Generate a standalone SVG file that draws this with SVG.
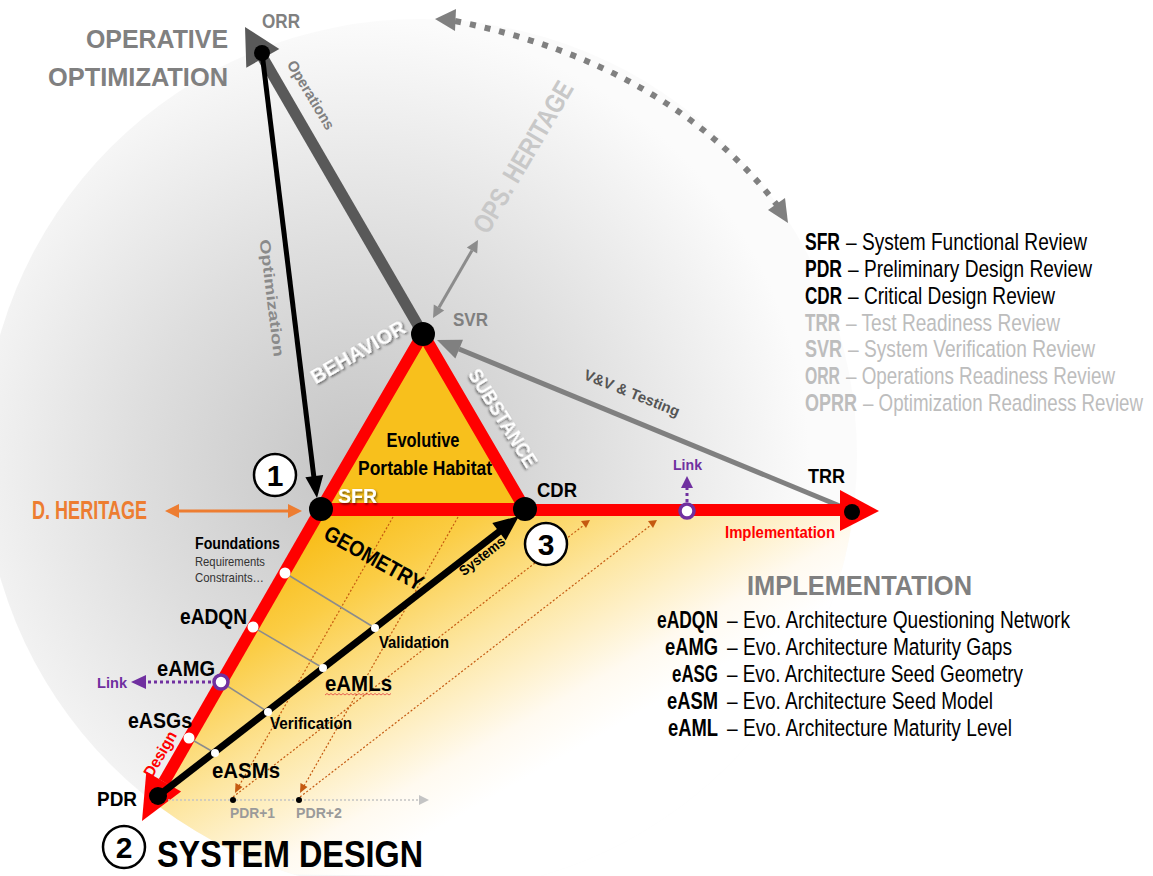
<svg xmlns="http://www.w3.org/2000/svg" width="1153" height="876" viewBox="0 0 1153 876">
<defs>
<style>
.n{font-family:"Liberation Sans",Arial,sans-serif}
.b{font-weight:bold}
.r{font-weight:normal}
.blk{fill:#000}
.gr{fill:#808080}
.lg{fill:#bdbdbd}
.sh{fill:#fff;filter:url(#ds)}
.dot{fill:#000}
.wd{fill:#fff}
.conn{stroke:#8c8c8c;stroke-width:1.5;fill:none}
.od{stroke:#c55a11;stroke-width:1.2;stroke-dasharray:2 2;fill:none}
.oh{fill:#c55a11}
.pl{fill:#7030a0}
</style>
<clipPath id="cc"><circle cx="420" cy="456" r="437"/></clipPath>
<radialGradient id="gg" gradientUnits="userSpaceOnUse" cx="360" cy="470" r="450">
<stop offset="0" stop-color="#c4c4c4"/>
<stop offset="0.5" stop-color="#dedede"/>
<stop offset="1" stop-color="#fbfbfb"/>
</radialGradient>
<linearGradient id="yg" gradientUnits="userSpaceOnUse" x1="330" y1="509" x2="495" y2="796">
<stop offset="0" stop-color="#f8bb12"/>
<stop offset="0.25" stop-color="#fbcd45"/>
<stop offset="0.55" stop-color="#fde6a0"/>
<stop offset="0.85" stop-color="#fffaf0"/>
<stop offset="1" stop-color="#ffffff"/>
</linearGradient>
<filter id="ds" x="-20%" y="-20%" width="140%" height="140%">
<feDropShadow dx="1" dy="1.5" stdDeviation="1" flood-color="#000" flood-opacity="0.6"/>
</filter>
</defs>

<g id="background" clip-path="url(#cc)">
<rect x="0" y="0" width="1153" height="876" fill="url(#gg)"/>
<polygon points="320,509 900,509 900,880 113,873" fill="url(#yg)"/>
</g>

<g id="habitat">
<polygon points="423,334 321,509 525,509" fill="#f8c01c" stroke="#ff0000" stroke-width="12" stroke-linejoin="round"/>
<text class="n b blk" x="423" y="447" font-size="21" text-anchor="middle" textLength="73" lengthAdjust="spacingAndGlyphs">Evolutive</text>
<text class="n b blk" x="425" y="475" font-size="21" text-anchor="middle" textLength="134" lengthAdjust="spacingAndGlyphs">Portable Habitat</text>
</g>

<g id="connectors">
<path d="M455,21 Q668,64 777,205" stroke="#808080" stroke-width="6" stroke-dasharray="6 9" fill="none"/>
<polygon points="435,19 456,9 455,31" fill="#808080"/>
<polygon points="788,223 768,210 785,198" fill="#808080"/>
<line x1="423" y1="334" x2="263" y2="58" stroke="#595959" stroke-width="11"/>
<polygon points="245,27 279.3,48.9 246.3,67.7" fill="#595959"/>
<line x1="262" y1="53" x2="314" y2="478" stroke="#000" stroke-width="5"/>
<polygon points="317,498 323.2,475.1 305.4,477.3" fill="#000"/>
<line x1="439" y1="307.6" x2="472" y2="250.4" stroke="#8c8c8c" stroke-width="3"/>
<polygon points="478,240 477.2,253.4 466.8,247.4" fill="#8c8c8c"/>
<polygon points="433,318 444.2,310.6 433.8,304.6" fill="#8c8c8c"/>
<line x1="852" y1="511" x2="459" y2="349" stroke="#808080" stroke-width="5"/>
<polygon points="437,340 463,339.8 455.4,358.4" fill="#808080"/>
<line x1="321" y1="510" x2="842" y2="510" stroke="#ff0000" stroke-width="12"/>
<polygon points="840,490 879,511 840,531" fill="#ff0000"/>
<line x1="321" y1="509" x2="164" y2="782" stroke="#ff0000" stroke-width="12"/>
<polygon points="142,821 181.1,791.6 146.3,771.8" fill="#ff0000"/>
<line x1="177" y1="511" x2="290" y2="511" stroke="#ed7d31" stroke-width="3"/>
<polygon points="165,511 179,504 179,518" fill="#ed7d31"/>
<polygon points="302,511 288,504 288,518" fill="#ed7d31"/>
<line class="od" x1="393" y1="517" x2="239" y2="786"/>
<polygon class="oh" points="235,793 242.5,787 235.5,783"/>
<line class="od" x1="458" y1="517" x2="304" y2="786"/>
<polygon class="oh" points="300,793 307.5,787 300.5,783"/>
<line class="od" x1="233" y1="797" x2="584" y2="525"/>
<polygon class="oh" points="590,520 581,521 586,528"/>
<line class="od" x1="300" y1="797" x2="651" y2="525"/>
<polygon class="oh" points="657,520 648,521 653,528"/>
<line class="conn" x1="285" y1="573" x2="375" y2="628"/>
<line class="conn" x1="253" y1="627" x2="323" y2="668"/>
<line class="conn" x1="221" y1="682" x2="268" y2="712"/>
<line class="conn" x1="189" y1="738" x2="215" y2="753"/>
<line x1="158" y1="796" x2="500" y2="531" stroke="#000" stroke-width="7"/>
<polygon points="519,516 505.7,540.4 492.3,523" fill="#000"/>
<line x1="168" y1="800" x2="420" y2="800" stroke="#c4c4c4" stroke-width="1.5" stroke-dasharray="2 2"/>
<polygon points="429,800 419,795 419,805" fill="#c4c4c4"/>
<line x1="211" y1="682" x2="146" y2="682" stroke="#7030a0" stroke-width="3" stroke-dasharray="3 3"/>
<polygon class="pl" points="131,682 146,675 146,689"/>
<line x1="687" y1="502" x2="687" y2="487" stroke="#7030a0" stroke-width="3" stroke-dasharray="3 3"/>
<polygon class="pl" points="687,476 681,488 693,488"/>
<path d="M325,695 l2,-1.5 l2,1.5 l2,-1.5 l2,1.5 l2,-1.5 l2,1.5 l2,-1.5 l2,1.5 l2,-1.5 l2,1.5 l2,-1.5 l2,1.5 l2,-1.5 l2,1.5 l2,-1.5 l2,1.5 l2,-1.5 l2,1.5 l2,-1.5 l2,1.5 l2,-1.5 l2,1.5 l2,-1.5 l2,1.5 l2,-1.5 l2,1.5 l2,-1.5 l2,1.5 l2,-1.5 l2,1.5 l2,-1.5 l2,1.5 l2,-1.5" stroke="#e04040" stroke-width="0.8" fill="none"/>
</g>

<g id="labels-edges">
<text class="n b" fill="#c8c8c8" font-size="27" text-anchor="middle" dy="0.35em" transform="translate(523,157) rotate(-59.5)" textLength="171" lengthAdjust="spacingAndGlyphs">OPS. HERITAGE</text>
<text class="n b gr" font-size="15" text-anchor="middle" dy="0.35em" transform="translate(311,95) rotate(59)" textLength="78" lengthAdjust="spacingAndGlyphs">Operations</text>
<text class="n b" fill="#8a8a8a" font-size="15" text-anchor="middle" dy="0.35em" transform="translate(272,298) rotate(83)" textLength="118" lengthAdjust="spacingAndGlyphs">Optimization</text>
<text class="n b" fill="#555" font-size="15" text-anchor="middle" dy="0.35em" transform="translate(632,393) rotate(22)" textLength="102" lengthAdjust="spacingAndGlyphs">V&amp;V &amp; Testing</text>
<text class="n b sh" font-size="21" text-anchor="middle" dy="0.35em" transform="translate(358,352) rotate(-30)" textLength="106" lengthAdjust="spacingAndGlyphs">BEHAVIOR</text>
<text class="n b sh" font-size="20" text-anchor="middle" dy="0.35em" transform="translate(503,418) rotate(58)" textLength="112" lengthAdjust="spacingAndGlyphs">SUBSTANCE</text>
<text class="n b blk" font-size="22" text-anchor="middle" dy="0.35em" transform="translate(374,558) rotate(29)" textLength="110" lengthAdjust="spacingAndGlyphs">GEOMETRY</text>
<text class="n b blk" font-size="14" text-anchor="middle" dy="0.35em" transform="translate(482,556) rotate(-38)" textLength="54" lengthAdjust="spacingAndGlyphs">Systems</text>
<text class="n b" fill="#ff0000" font-size="16" text-anchor="middle" dy="0.35em" transform="translate(160,754) rotate(-60)" textLength="50" lengthAdjust="spacingAndGlyphs">Design</text>
<text class="n b" fill="#ff0000" font-size="16" x="725" y="538" textLength="110" lengthAdjust="spacingAndGlyphs">Implementation</text>
</g>

<g id="node-orr">
<circle class="dot" cx="262" cy="53" r="8"/>
<text class="n b gr" x="262" y="28" font-size="20" textLength="38" lengthAdjust="spacingAndGlyphs">ORR</text>
<text class="n b gr" x="228" y="48" font-size="25" text-anchor="end" textLength="142" lengthAdjust="spacingAndGlyphs">OPERATIVE</text>
<text class="n b gr" x="228" y="86" font-size="25" text-anchor="end" textLength="180" lengthAdjust="spacingAndGlyphs">OPTIMIZATION</text>
</g>
<g id="node-svr">
<circle class="dot" cx="423" cy="334" r="12"/>
<text class="n b gr" x="453" y="326" font-size="18" textLength="35" lengthAdjust="spacingAndGlyphs">SVR</text>
</g>
<g id="node-sfr">
<circle class="dot" cx="321" cy="509" r="12"/>
<text class="n b sh" x="338" y="503" font-size="21" textLength="39" lengthAdjust="spacingAndGlyphs">SFR</text>
<circle cx="275" cy="475" r="21" fill="#fff" stroke="#000" stroke-width="2.5"/>
<text class="n b blk" x="275" y="486" font-size="30" text-anchor="middle">1</text>
<text class="n b" fill="#ed7d31" x="147" y="519" font-size="25" text-anchor="end" textLength="115" lengthAdjust="spacingAndGlyphs">D. HERITAGE</text>
</g>
<g id="node-cdr">
<circle class="dot" cx="525" cy="509" r="12"/>
<text class="n b blk" x="537" y="497" font-size="21" textLength="40" lengthAdjust="spacingAndGlyphs">CDR</text>
<circle cx="546" cy="544" r="21" fill="#fff" stroke="#000" stroke-width="2.5"/>
<text class="n b blk" x="546" y="555" font-size="30" text-anchor="middle">3</text>
</g>
<g id="node-trr">
<circle class="dot" cx="852" cy="512" r="8"/>
<text class="n b blk" x="808" y="483" font-size="21" textLength="37" lengthAdjust="spacingAndGlyphs">TRR</text>
</g>
<g id="node-link-top">
<circle cx="687" cy="511" r="7" fill="#fff" stroke="#7030a0" stroke-width="3.5"/>
<text class="n b pl" x="673" y="470" font-size="15" textLength="29" lengthAdjust="spacingAndGlyphs">Link</text>
</g>
<g id="node-pdr">
<circle class="dot" cx="158" cy="796" r="9"/>
<text class="n b blk" x="97" y="806" font-size="21" textLength="40" lengthAdjust="spacingAndGlyphs">PDR</text>
<circle class="dot" cx="233" cy="800" r="3"/>
<circle class="dot" cx="299" cy="800" r="3"/>
<text class="n b" fill="#9a9a9a" x="230" y="818" font-size="14" textLength="45" lengthAdjust="spacingAndGlyphs">PDR+1</text>
<text class="n b" fill="#9a9a9a" x="296" y="818" font-size="14" textLength="46" lengthAdjust="spacingAndGlyphs">PDR+2</text>
<circle cx="124" cy="847" r="21" fill="#fff" stroke="#000" stroke-width="2.5"/>
<text class="n b blk" x="124" y="858" font-size="30" text-anchor="middle">2</text>
<text class="n b blk" x="157" y="867" font-size="37" textLength="266" lengthAdjust="spacingAndGlyphs">SYSTEM DESIGN</text>
</g>
<g id="design-steps">
<text class="n b blk" x="195" y="549" font-size="16" textLength="85" lengthAdjust="spacingAndGlyphs">Foundations</text>
<text class="n" fill="#333" x="195" y="566" font-size="13" textLength="70" lengthAdjust="spacingAndGlyphs">Requirements</text>
<text class="n" fill="#333" x="195" y="582" font-size="13" textLength="69" lengthAdjust="spacingAndGlyphs">Constraints…</text>
<circle class="wd" cx="285" cy="573" r="5.5"/>
<circle class="wd" cx="253" cy="627" r="5.5"/>
<circle cx="221" cy="682" r="7" fill="#fff" stroke="#7030a0" stroke-width="3.5"/>
<circle class="wd" cx="189" cy="738" r="5.5"/>
<circle class="wd" cx="375" cy="628" r="4"/>
<circle class="wd" cx="323" cy="668" r="4"/>
<circle class="wd" cx="268" cy="712" r="4"/>
<circle class="wd" cx="215" cy="753" r="4"/>
<text class="n b blk" x="180" y="624" font-size="22" textLength="67" lengthAdjust="spacingAndGlyphs">eADQN</text>
<text class="n b blk" x="157" y="676" font-size="22" textLength="58" lengthAdjust="spacingAndGlyphs">eAMG</text>
<text class="n b blk" x="128" y="728" font-size="22" textLength="64" lengthAdjust="spacingAndGlyphs">eASGs</text>
<text class="n b blk" x="212" y="778" font-size="22" textLength="68" lengthAdjust="spacingAndGlyphs">eASMs</text>
<text class="n b blk" x="325" y="691" font-size="22" textLength="67" lengthAdjust="spacingAndGlyphs">eAMLs</text>
<text class="n b blk" x="379" y="648" font-size="16" textLength="70" lengthAdjust="spacingAndGlyphs">Validation</text>
<text class="n b blk" x="270" y="729" font-size="16" textLength="82" lengthAdjust="spacingAndGlyphs">Verification</text>
<text class="n b pl" x="97" y="688" font-size="15" textLength="30" lengthAdjust="spacingAndGlyphs">Link</text>
</g>

<g id="legend-reviews" font-size="24.5">
<text class="n" y="250"><tspan class="b" x="805" textLength="35" lengthAdjust="spacingAndGlyphs">SFR</tspan><tspan x="846" textLength="241" lengthAdjust="spacingAndGlyphs">– System Functional Review</tspan></text>
<text class="n" y="277"><tspan class="b" x="805" textLength="37" lengthAdjust="spacingAndGlyphs">PDR</tspan><tspan x="848" textLength="244" lengthAdjust="spacingAndGlyphs">– Preliminary Design Review</tspan></text>
<text class="n" y="304"><tspan class="b" x="805" textLength="37" lengthAdjust="spacingAndGlyphs">CDR</tspan><tspan x="848" textLength="207" lengthAdjust="spacingAndGlyphs">– Critical Design Review</tspan></text>
<text class="n lg" y="331"><tspan class="b" x="805" textLength="35" lengthAdjust="spacingAndGlyphs">TRR</tspan><tspan x="846" textLength="214" lengthAdjust="spacingAndGlyphs">– Test Readiness Review</tspan></text>
<text class="n lg" y="357"><tspan class="b" x="805" textLength="37" lengthAdjust="spacingAndGlyphs">SVR</tspan><tspan x="848" textLength="247" lengthAdjust="spacingAndGlyphs">– System Verification Review</tspan></text>
<text class="n lg" y="384"><tspan class="b" x="805" textLength="35" lengthAdjust="spacingAndGlyphs">ORR</tspan><tspan x="846" textLength="269" lengthAdjust="spacingAndGlyphs">– Operations Readiness Review</tspan></text>
<text class="n lg" y="411"><tspan class="b" x="805" textLength="52" lengthAdjust="spacingAndGlyphs">OPRR</tspan><tspan x="863" textLength="280" lengthAdjust="spacingAndGlyphs">– Optimization Readiness Review</tspan></text>
</g>

<g id="legend-implementation" font-size="24.5">
<text class="n b gr" x="747" y="595" font-size="27" textLength="225" lengthAdjust="spacingAndGlyphs">IMPLEMENTATION</text>
<text class="n" y="628"><tspan class="b" x="657" textLength="61" lengthAdjust="spacingAndGlyphs">eADQN</tspan><tspan x="727" textLength="343" lengthAdjust="spacingAndGlyphs">– Evo. Architecture Questioning Network</tspan></text>
<text class="n" y="655"><tspan class="b" x="665" textLength="53" lengthAdjust="spacingAndGlyphs">eAMG</tspan><tspan x="727" textLength="285" lengthAdjust="spacingAndGlyphs">– Evo. Architecture Maturity Gaps</tspan></text>
<text class="n" y="682"><tspan class="b" x="672" textLength="46" lengthAdjust="spacingAndGlyphs">eASG</tspan><tspan x="727" textLength="296" lengthAdjust="spacingAndGlyphs">– Evo. Architecture Seed Geometry</tspan></text>
<text class="n" y="709"><tspan class="b" x="667" textLength="51" lengthAdjust="spacingAndGlyphs">eASM</tspan><tspan x="727" textLength="266" lengthAdjust="spacingAndGlyphs">– Evo. Architecture Seed Model</tspan></text>
<text class="n" y="736"><tspan class="b" x="668" textLength="50" lengthAdjust="spacingAndGlyphs">eAML</tspan><tspan x="727" textLength="285" lengthAdjust="spacingAndGlyphs">– Evo. Architecture Maturity Level</tspan></text>
</g>
</svg>
